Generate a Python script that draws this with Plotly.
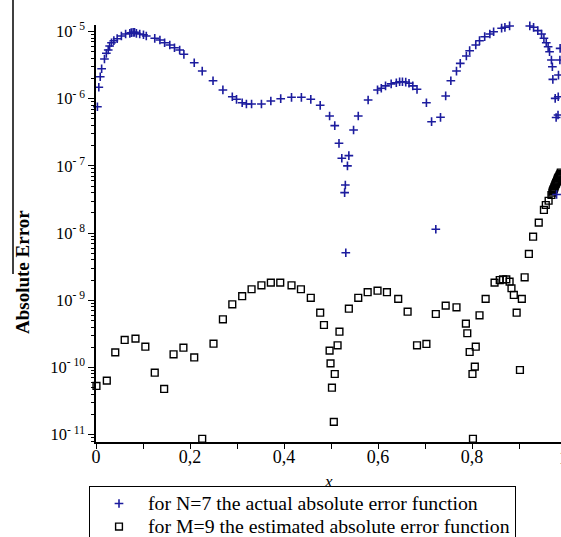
import plotly.graph_objects as go

# ---- data ----
n7_x = [0.003, 0.006, 0.009, 0.012, 0.018, 0.022, 0.026, 0.029, 0.033, 0.038,
        0.045, 0.054, 0.063, 0.072, 0.075, 0.079, 0.082, 0.086, 0.093, 0.101,
        0.107, 0.125, 0.136, 0.146, 0.157, 0.167, 0.178, 0.187, 0.209, 0.226,
        0.249, 0.270, 0.290, 0.299, 0.311, 0.320, 0.331, 0.352, 0.372, 0.393,
        0.416, 0.437, 0.457, 0.477, 0.497, 0.508, 0.517, 0.523, 0.529, 0.5305,
        0.5315, 0.535, 0.538, 0.548, 0.558, 0.579, 0.599, 0.607, 0.616, 0.628,
        0.639, 0.646, 0.652, 0.659, 0.666, 0.674, 0.683, 0.703, 0.714, 0.723,
        0.733, 0.744, 0.755, 0.767, 0.775, 0.788, 0.795, 0.808, 0.816, 0.827,
        0.838, 0.846, 0.863, 0.870, 0.880, 0.889, 0.892, 0.895, 0.898, 0.901,
        0.904, 0.907, 0.910, 0.923, 0.931, 0.940, 0.948, 0.953, 0.958, 0.962,
        0.965, 0.969, 0.971, 0.972, 0.977, 0.979, 0.980, 0.983, 0.9835, 0.984,
        0.987, 0.9875]
n7_err = [7.6e-7, 1.48e-6, 2.12e-6, 2.79e-6, 3.90e-6, 4.74e-6, 5.31e-6, 6.08e-6, 6.81e-6, 7.30e-6,
          7.82e-6, 8.57e-6, 9.18e-6, 9.40e-6, 9.6e-6, 9.73e-6, 9.7e-6, 9.40e-6, 9.18e-6, 8.96e-6,
          8.57e-6, 7.92e-6, 7.47e-6, 6.81e-6, 6.30e-6, 5.74e-6, 5.31e-6, 4.58e-6, 3.43e-6, 2.58e-6,
          1.85e-6, 1.35e-6, 1.07e-6, 9.8e-7, 8.7e-7, 8.34e-7, 8.34e-7, 8.34e-7, 9.24e-7, 1.0e-6,
          1.05e-6, 1.05e-6, 9.8e-7, 7.98e-7, 5.53e-7, 3.97e-7, 2.17e-7, 1.30e-7, 4.0e-8, 5.2e-8,
          5.1e-9, 1.0e-7, 1.42e-7, 3.42e-7, 5.53e-7, 9.57e-7, 1.35e-6, 1.43e-6, 1.55e-6, 1.66e-6,
          1.73e-6, 1.79e-6, 1.79e-6, 1.77e-6, 1.70e-6, 1.55e-6, 1.38e-6, 8.7e-7, 4.55e-7, 1.14e-8,
          5.29e-7, 1.10e-6, 1.85e-6, 2.58e-6, 3.36e-6, 4.32e-6, 5.18e-6, 6.30e-6, 7.30e-6, 8.37e-6,
          9.18e-6, 9.93e-6, 1.12e-5, 1.155e-5, 1.21e-5, 1.27e-5, 1.28e-5, 1.28e-5, 1.28e-5, 1.28e-5,
          1.28e-5, 1.28e-5, 1.27e-5, 1.21e-5, 1.155e-5, 1.03e-5, 9.18e-6, 7.92e-6, 6.81e-6, 5.94e-6,
          5.0e-6, 3.77e-6, 2.99e-6, 1.94e-6, 1.01e-6, 5.25e-7, 3.75e-8, 5.72e-7, 1.07e-6, 2.25e-6,
          3.77e-6, 5.62e-6]

m9_x = [0.001, 0.023, 0.041, 0.061, 0.084, 0.105, 0.125, 0.145, 0.165, 0.186,
        0.209, 0.226, 0.250, 0.270, 0.290, 0.311, 0.331, 0.352, 0.372, 0.392,
        0.416, 0.436, 0.457, 0.477, 0.485, 0.497, 0.499, 0.502, 0.506, 0.508,
        0.514, 0.518, 0.538, 0.558, 0.578, 0.599, 0.619, 0.643, 0.663, 0.683,
        0.703, 0.723, 0.744, 0.767, 0.787, 0.790, 0.795, 0.801, 0.802, 0.806,
        0.808, 0.816, 0.829, 0.848, 0.859, 0.866, 0.873, 0.880, 0.884, 0.889,
        0.895, 0.902, 0.906, 0.912, 0.921, 0.930, 0.942, 0.953, 0.957, 0.963,
        0.969, 0.971, 0.972, 0.973, 0.974, 0.975, 0.976, 0.977, 0.978, 0.979,
        0.980, 0.981, 0.982, 0.983, 0.984, 0.985, 0.986, 0.987, 0.988, 0.989]
m9_err = [5.31e-11, 6.37e-11, 1.68e-10, 2.57e-10, 2.69e-10, 2.04e-10, 8.37e-11, 4.79e-11, 1.57e-10, 1.97e-10,
          1.41e-10, 8.7e-12, 2.26e-10, 5.21e-10, 8.71e-10, 1.15e-9, 1.46e-9, 1.67e-9, 1.83e-9, 1.83e-9,
          1.67e-9, 1.46e-9, 1.09e-9, 6.54e-10, 4.29e-10, 1.78e-10, 1.15e-10, 5.0e-11, 1.55e-11, 8.0e-11,
          2.14e-10, 3.41e-10, 7.5e-10, 1.09e-9, 1.32e-9, 1.39e-9, 1.32e-9, 1.05e-9, 6.76e-10, 2.14e-10,
          2.24e-10, 6.25e-10, 8.32e-10, 7.87e-10, 4.49e-10, 3.23e-10, 1.70e-10, 8.0e-11, 8.7e-12, 1.03e-10,
          2.04e-10, 5.98e-10, 1.05e-9, 1.83e-9, 2.0e-9, 2.05e-9, 2.05e-9, 1.89e-9, 1.51e-9, 1.20e-9,
          6.54e-10, 9.18e-11, 1.05e-9, 2.20e-9, 4.89e-9, 8.84e-9, 1.43e-8, 2.21e-8, 2.62e-8, 3.03e-8,
          3.69e-8, 4.0e-8, 4.23e-8, 4.4e-8, 4.53e-8, 4.75e-8, 4.94e-8, 5.15e-8, 5.38e-8, 5.55e-8,
          5.76e-8, 6.0e-8, 6.28e-8, 6.55e-8, 6.7e-8, 6.84e-8, 7.1e-8, 7.32e-8, 7.6e-8, 7.97e-8]

x_tick_vals = [0.0, 0.1, 0.2, 0.3, 0.4, 0.5, 0.6, 0.7, 0.8, 0.9]
x_tick_text = ["0", "", "0,2", "", "0,4", "", "0,6", "", "0,8", ""]
y_decades = [-11, -10, -9, -8, -7, -6, -5]
y_tick_text = ["10<sup>- %d</sup>" % (-d) for d in y_decades]

name_n7 = "for N=7 the actual absolute error function"
name_m9 = "for M=9 the estimated absolute error function"

# ---- figure ----
W, H = 561, 537
ML, MR, MT, MB = 96, 0, 25, 95
plot_h = H - MT - MB
plot_w = W - ML - MR

BLUE = "#1c1c9e"
SERIF = "Liberation Serif, Times New Roman, serif"


def px_x(p):
    return (p - ML) / plot_w


def px_y(p):
    return (H - MB - p) / plot_h


def legend_label(s):
    return '<span style="font-size:19.8px">%s</span>' % s


fig = go.Figure()
fig.add_trace(go.Scatter(
    x=m9_x, y=m9_err, mode="markers", name=legend_label(name_m9), legendrank=2, cliponaxis=False,
    marker=dict(symbol="square-open", size=6.8, color="black", line=dict(width=1.4, color="black")),
))
fig.add_trace(go.Scatter(
    x=n7_x, y=n7_err, mode="markers", name=legend_label(name_n7), legendrank=1, cliponaxis=False,
    marker=dict(symbol="cross-thin", size=6.2, color=BLUE, line=dict(width=1.6, color=BLUE)),
))

minor_vals = [m * 10.0 ** d for d in range(-12, -4) for m in range(2, 10)]

fig.update_layout(
    width=W, height=H,
    margin=dict(l=ML, r=MR, t=MT, b=MB, autoexpand=False),
    paper_bgcolor="white", plot_bgcolor="white",
    font=dict(family=SERIF, color="black", size=16),
    showlegend=True,
    legend=dict(
        x=px_x(89), xanchor="left", y=px_y(486), yanchor="top",
        bordercolor="black", borderwidth=1, bgcolor="white",
        font=dict(family=SERIF, size=15.4, color="black"),
        itemwidth=48, traceorder="normal",
    ),
    xaxis=dict(
        range=[0, plot_w / 470.0], showline=True, linecolor="black", linewidth=1.5,
        showgrid=False, zeroline=False, ticks="outside", ticklen=5, tickwidth=1, tickcolor="black",
        tickmode="array", tickvals=x_tick_vals, ticktext=x_tick_text, ticklabelstandoff=-7,
        tickfont=dict(family=SERIF, size=18, color="black"),
    ),
    yaxis=dict(
        type="log", range=[-11.109, -4.903], showline=True, linecolor="black", linewidth=1.5,
        showgrid=False, zeroline=False, ticks="outside", ticklen=6, tickwidth=1, tickcolor="black",
        tickmode="array", tickvals=[10.0 ** d for d in y_decades], ticktext=y_tick_text,
        tickfont=dict(family=SERIF, size=16.5, color="black"),
        minor=dict(tickmode="array", tickvals=minor_vals, ticks="outside", ticklen=3,
                   tickwidth=1, tickcolor="black", showgrid=False),
    ),
    annotations=[
        dict(text="<b>Absolute Error</b>", textangle=-90, xref="paper", yref="paper",
             x=px_x(22), y=px_y(272), xanchor="center", yanchor="middle", showarrow=False,
             font=dict(family=SERIF, size=19, color="black")),
        dict(text="<i>x</i>", xref="paper", yref="paper", x=px_x(328), y=px_y(481),
             xanchor="center", yanchor="middle", showarrow=False,
             font=dict(family=SERIF, size=17, color="black")),
        dict(text="1", xref="paper", yref="paper", x=px_x(557), y=px_y(458),
             xanchor="left", yanchor="middle", showarrow=False,
             font=dict(family=SERIF, size=18, color="black")),
    ],
    shapes=[
        dict(type="line", xref="paper", yref="paper", x0=px_x(13), x1=px_x(13),
             y0=px_y(0), y1=px_y(274), line=dict(color="black", width=1.5)),
    ],
)

fig.write_html("out.html")
